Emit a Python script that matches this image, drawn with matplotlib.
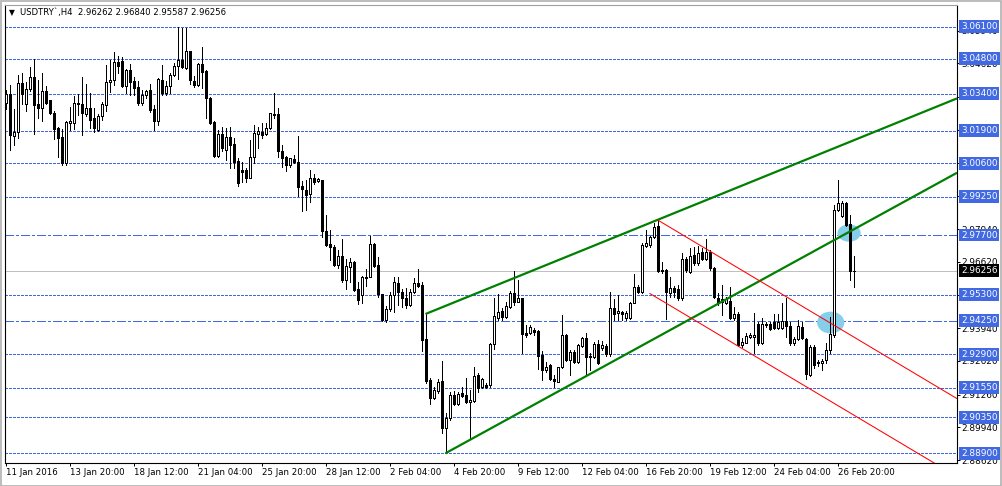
import numpy as np
import matplotlib
matplotlib.use('Agg')
import matplotlib.pyplot as plt
from matplotlib.patches import Ellipse, Rectangle
from matplotlib.transforms import blended_transform_factory

# USDTRY H4 candles, 11 Jan - 26 Feb 2016
opens = [
    3.0302, 3.0337, 3.0168, 3.0185, 3.0383, 3.0300, 3.0357, 3.0407, 3.0297, 3.0283,
    3.0349, 3.0313, 3.0263, 3.0201, 3.0165, 3.0060, 3.0223, 3.0223, 3.0302, 3.0298,
    3.0259, 3.0282, 3.0242, 3.0195, 3.0249, 3.0296, 3.0386, 3.0394, 3.0468, 3.0472,
    3.0372, 3.0434, 3.0390, 3.0367, 3.0304, 3.0333, 3.0353, 3.0277, 3.0231, 3.0394,
    3.0344, 3.0369, 3.0414, 3.0451, 3.0477, 3.0445, 3.0510, 3.0390, 3.0373, 3.0458,
    3.0431, 3.0322, 3.0226, 3.0089, 3.0176, 3.0114, 3.0167, 3.0137, 3.0069, 3.0032,
    3.0032, 3.0001, 3.0083, 3.0176, 3.0187, 3.0176, 3.0200, 3.0257, 3.0257, 3.0109,
    3.0083, 3.0052, 3.0077, 3.0066, 2.9968, 2.9952, 2.9934, 2.9999, 2.9988, 2.9990,
    2.9788, 2.9734, 2.9720, 2.9649, 2.9686, 2.9589, 2.9643, 2.9663, 2.9553, 2.9528,
    2.9598, 2.9602, 2.9734, 2.9649, 2.9531, 2.9426, 2.9471, 2.9528, 2.9575, 2.9539,
    2.9515, 2.9488, 2.9539, 2.9575, 2.9569, 2.9351, 2.9186, 2.9112, 2.9141, 2.9182,
    2.8991, 2.9031, 2.9125, 2.9090, 2.9132, 2.9125, 2.9095, 2.9101, 2.9206, 2.9159,
    2.9165, 2.9165, 2.9329, 2.9437, 2.9464, 2.9441, 2.9481, 2.9535, 2.9501, 2.9515,
    2.9374, 2.9374, 2.9387, 2.9383, 2.9286, 2.9226, 2.9246, 2.9188, 2.9179, 2.9236,
    2.9367, 2.9266, 2.9297, 2.9257, 2.9324, 2.9356, 2.9284, 2.9279, 2.9329, 2.9313,
    2.9324, 2.9289, 2.9474, 2.9454, 2.9461, 2.9434, 2.9434, 2.9497, 2.9562, 2.9542,
    2.9727, 2.9730, 2.9763, 2.9807, 2.9629, 2.9629, 2.9535, 2.9555, 2.9551, 2.9515,
    2.9672, 2.9622, 2.9689, 2.9656, 2.9703, 2.9672, 2.9703, 2.9636, 2.9515, 2.9512,
    2.9497, 2.9504, 2.9434, 2.9451, 2.9326, 2.9336, 2.9360, 2.9360, 2.9411, 2.9333,
    2.9406, 2.9411, 2.9420, 2.9394, 2.9394, 2.9425, 2.9403, 2.9333, 2.9349, 2.9400,
    2.9349, 2.9205, 2.9320, 2.9259, 2.9255, 2.9266, 2.9306, 2.9367, 2.9871, 2.9848,
    2.9898, 2.9813, 2.96262,
]
highs = [
    3.0353, 3.0376, 3.0277, 3.0417, 3.0423, 3.0387, 3.0447, 3.0478, 3.0394, 3.0423,
    3.0371, 3.0316, 3.0270, 3.0205, 3.0196, 3.0230, 3.0286, 3.0330, 3.0340, 3.0407,
    3.0379, 3.0343, 3.0282, 3.0259, 3.0306, 3.0457, 3.0477, 3.0508, 3.0492, 3.0488,
    3.0441, 3.0461, 3.0407, 3.0390, 3.0353, 3.0356, 3.0380, 3.0296, 3.0403, 3.0457,
    3.0390, 3.0425, 3.0465, 3.0610, 3.0606, 3.0604, 3.0512, 3.0410, 3.0465, 3.0528,
    3.0434, 3.0325, 3.0228, 3.0192, 3.0206, 3.0201, 3.0207, 3.0160, 3.0082, 3.0066,
    3.0042, 3.0153, 3.0214, 3.0207, 3.0223, 3.0220, 3.0263, 3.0341, 3.0281, 3.0133,
    3.0089, 3.0082, 3.0093, 3.0169, 2.9988, 2.9992, 3.0032, 3.0015, 3.0001, 2.9993,
    2.9851, 2.9790, 2.9730, 2.9710, 2.9754, 2.9673, 2.9679, 2.9666, 2.9582, 2.9605,
    2.9633, 2.9768, 2.9737, 2.9683, 2.9533, 2.9485, 2.9539, 2.9601, 2.9600, 2.9553,
    2.9558, 2.9553, 2.9598, 2.9633, 2.9579, 2.9450, 2.9192, 2.9159, 2.9190, 2.9262,
    2.9054, 2.9138, 2.9140, 2.9135, 2.9159, 2.9192, 2.9145, 2.9239, 2.9212, 2.9195,
    2.9172, 2.9336, 2.9515, 2.9531, 2.9474, 2.9501, 2.9544, 2.9626, 2.9589, 2.9518,
    2.9407, 2.9407, 2.9396, 2.9385, 2.9302, 2.9259, 2.9248, 2.9206, 2.9239, 2.9448,
    2.9370, 2.9305, 2.9305, 2.9329, 2.9360, 2.9376, 2.9293, 2.9340, 2.9347, 2.9343,
    2.9329, 2.9539, 2.9512, 2.9528, 2.9464, 2.9464, 2.9501, 2.9611, 2.9568, 2.9739,
    2.9790, 2.9767, 2.9817, 2.9831, 2.9662, 2.9632, 2.9602, 2.9564, 2.9568, 2.9696,
    2.9680, 2.9716, 2.9720, 2.9726, 2.9716, 2.9752, 2.9709, 2.9640, 2.9535, 2.9568,
    2.9521, 2.9562, 2.9481, 2.9461, 2.9353, 2.9374, 2.9374, 2.9457, 2.9420, 2.9434,
    2.9420, 2.9420, 2.9451, 2.9451, 2.9497, 2.9515, 2.9420, 2.9360, 2.9427, 2.9420,
    2.9353, 2.9326, 2.9326, 2.9266, 2.9269, 2.9333, 2.9441, 2.9890, 2.9992, 2.9907,
    2.9902, 2.9851, 2.96840,
]
lows = [
    3.0277, 3.0111, 3.0132, 3.0162, 3.0300, 3.0269, 3.0350, 3.0179, 3.0243, 3.0231,
    3.0300, 3.0259, 3.0156, 3.0086, 3.0051, 3.0051, 3.0192, 3.0199, 3.0255, 3.0175,
    3.0249, 3.0201, 3.0185, 3.0191, 3.0232, 3.0270, 3.0347, 3.0373, 3.0425, 3.0367,
    3.0343, 3.0336, 3.0336, 3.0294, 3.0293, 3.0322, 3.0266, 3.0195, 3.0215, 3.0333,
    3.0333, 3.0343, 3.0411, 3.0400, 3.0445, 3.0440, 3.0380, 3.0367, 3.0371, 3.0363,
    3.0242, 3.0219, 3.0085, 3.0085, 3.0107, 3.0071, 3.0042, 3.0042, 2.9969, 2.9985,
    2.9985, 2.9999, 3.0059, 3.0122, 3.0160, 3.0173, 3.0198, 3.0241, 3.0086, 3.0046,
    3.0030, 3.0046, 3.0059, 2.9929, 2.9868, 2.9871, 2.9905, 2.9975, 2.9983, 2.9764,
    2.9727, 2.9670, 2.9647, 2.9639, 2.9582, 2.9553, 2.9582, 2.9546, 2.9492, 2.9497,
    2.9565, 2.9600, 2.9641, 2.9519, 2.9425, 2.9421, 2.9465, 2.9461, 2.9488, 2.9481,
    2.9475, 2.9485, 2.9535, 2.9562, 2.9303, 2.9172, 2.9087, 2.9108, 2.9132, 2.8971,
    2.8890, 2.9024, 2.9085, 2.9085, 2.9118, 2.9091, 2.8950, 2.9098, 2.9138, 2.9155,
    2.9155, 2.9159, 2.9310, 2.9427, 2.9427, 2.9434, 2.9477, 2.9488, 2.9499, 2.9296,
    2.9360, 2.9370, 2.9367, 2.9228, 2.9185, 2.9219, 2.9185, 2.9159, 2.9176, 2.9232,
    2.9263, 2.9205, 2.9255, 2.9253, 2.9320, 2.9206, 2.9226, 2.9275, 2.9249, 2.9306,
    2.9284, 2.9284, 2.9427, 2.9427, 2.9427, 2.9427, 2.9431, 2.9495, 2.9535, 2.9535,
    2.9723, 2.9723, 2.9759, 2.9622, 2.9615, 2.9430, 2.9521, 2.9521, 2.9508, 2.9508,
    2.9622, 2.9615, 2.9649, 2.9649, 2.9669, 2.9669, 2.9629, 2.9515, 2.9488, 2.9447,
    2.9492, 2.9430, 2.9427, 2.9322, 2.9320, 2.9333, 2.9353, 2.9295, 2.9326, 2.9330,
    2.9400, 2.9387, 2.9390, 2.9390, 2.9390, 2.9360, 2.9326, 2.9326, 2.9347, 2.9349,
    2.9188, 2.9201, 2.9232, 2.9242, 2.9226, 2.9252, 2.9293, 2.9360, 2.9865, 2.9844,
    2.9805, 2.9589, 2.95587,
]
closes = [
    3.0340, 3.0172, 3.0185, 3.0383, 3.0337, 3.0357, 3.0407, 3.0296, 3.0283, 3.0349,
    3.0304, 3.0263, 3.0199, 3.0161, 3.0060, 3.0226, 3.0230, 3.0302, 3.0300, 3.0263,
    3.0282, 3.0235, 3.0203, 3.0249, 3.0300, 3.0387, 3.0394, 3.0468, 3.0450, 3.0372,
    3.0434, 3.0387, 3.0363, 3.0304, 3.0333, 3.0349, 3.0275, 3.0231, 3.0398, 3.0344,
    3.0369, 3.0414, 3.0451, 3.0474, 3.0447, 3.0510, 3.0394, 3.0373, 3.0458, 3.0427,
    3.0322, 3.0223, 3.0089, 3.0176, 3.0121, 3.0165, 3.0133, 3.0066, 2.9981, 3.0026,
    3.0001, 3.0086, 3.0180, 3.0190, 3.0173, 3.0200, 3.0261, 3.0254, 3.0110, 3.0082,
    3.0052, 3.0079, 3.0063, 2.9965, 2.9954, 2.9932, 2.9999, 2.9985, 2.9995, 2.9788,
    2.9730, 2.9723, 2.9649, 2.9686, 2.9589, 2.9645, 2.9660, 2.9548, 2.9508, 2.9600,
    2.9602, 2.9734, 2.9645, 2.9531, 2.9428, 2.9471, 2.9528, 2.9582, 2.9539, 2.9515,
    2.9488, 2.9539, 2.9575, 2.9565, 2.9347, 2.9182, 2.9112, 2.9145, 2.9179, 2.8991,
    2.9034, 2.9125, 2.9090, 2.9128, 2.9122, 2.9095, 2.9105, 2.9203, 2.9155, 2.9189,
    2.9159, 2.9329, 2.9443, 2.9458, 2.9441, 2.9484, 2.9535, 2.9501, 2.9515, 2.9371,
    2.9367, 2.9400, 2.9380, 2.9284, 2.9226, 2.9239, 2.9189, 2.9181, 2.9236, 2.9367,
    2.9266, 2.9297, 2.9259, 2.9326, 2.9356, 2.9279, 2.9277, 2.9329, 2.9253, 2.9326,
    2.9289, 2.9474, 2.9450, 2.9464, 2.9450, 2.9454, 2.9497, 2.9559, 2.9542, 2.9730,
    2.9736, 2.9763, 2.9804, 2.9626, 2.9625, 2.9541, 2.9555, 2.9541, 2.9515, 2.9672,
    2.9629, 2.9685, 2.9656, 2.9699, 2.9672, 2.9703, 2.9636, 2.9521, 2.9494, 2.9501,
    2.9512, 2.9437, 2.9451, 2.9326, 2.9340, 2.9364, 2.9365, 2.9367, 2.9333, 2.9411,
    2.9411, 2.9392, 2.9394, 2.9420, 2.9425, 2.9403, 2.9333, 2.9349, 2.9403, 2.9353,
    2.9209, 2.9320, 2.9246, 2.9255, 2.9263, 2.9306, 2.9371, 2.9871, 2.9900, 2.9900,
    2.9810, 2.9626, 2.96256,
]

date_bars = [0, 16, 32, 48, 64, 80, 96, 112, 128, 144, 160, 176, 192, 208]
date_labels = ['11 Jan 2016', '13 Jan 20:00', '18 Jan 12:00', '21 Jan 04:00',
               '25 Jan 20:00', '28 Jan 12:00', '2 Feb 04:00', '4 Feb 20:00',
               '9 Feb 12:00', '12 Feb 04:00', '16 Feb 20:00', '19 Feb 12:00',
               '24 Feb 04:00', '26 Feb 20:00']

price_ticks = [2.8862, 2.8994, 2.9126, 2.9262, 2.9394, 2.9528, 2.9662,
               2.9794, 2.9928, 3.0062, 3.0194, 3.0328, 3.0462, 3.0594]

dash_levels = [3.061, 3.048, 3.034, 3.019, 3.006, 2.9925, 2.953,
               2.929, 2.9155, 2.9035, 2.889]
dashdot_levels = [2.977, 2.9425]
last_price = 2.96256

# trend lines: two anchor points (bar, price) each
green_upper = [(105, 2.94515), (163, 2.9831)]
green_lower = [(110, 2.8890), (210, 2.97745)]
red_upper = [(163, 2.9831), (195, 2.9523)]
red_lower = [(161, 2.9535), (200, 2.9160)]

# marked spots: (bar, price, width in bars, height in price)
spots = [(210.9, 2.9778, 5.8, 0.0070), (206.3, 2.9417, 6.8, 0.0088)]

title = 'USDTRY`,H4  2.96262 2.96840 2.95587 2.96256'

BLUE = '#4169E1'
PX = 0.68  # about one pixel, in points
W, H = 1002, 486
fig = plt.figure(figsize=(W / 100, H / 100), dpi=100)
ax = fig.add_axes([5 / W, 23 / H, 952 / W, 458 / H])
ax.set_xlim(-0.125, 237.875)
ax.set_ylim(2.88507, 3.06975)

for lv in dash_levels:
    ax.axhline(lv, color=BLUE, lw=PX, linestyle=(0, (3, 2)), zorder=1,
               antialiased=False)
for lv in dashdot_levels:
    ax.axhline(lv, color=BLUE, lw=PX, linestyle=(0, (9, 3, 3, 3)), zorder=1,
               antialiased=False)
ax.axhline(last_price, color='#C0C0C0', lw=PX, zorder=1, antialiased=False)

for bx, by, bw, bh in spots:
    ax.add_patch(Ellipse((bx, by), bw, bh, facecolor='#87CEEB', edgecolor='none',
                         zorder=2))

x = np.arange(len(opens))
o = np.array(opens)
c = np.array(closes)
ax.vlines(x, lows, highs, color='black', lw=PX, zorder=3, antialiased=False)
body_lo = np.minimum(o, c)
body_h = np.maximum(np.abs(c - o), 0.00012)
face = np.where(c >= o, 'white', 'black')
ax.bar(x, body_h, bottom=body_lo, width=0.5, color=face, edgecolor='black',
       lw=PX, zorder=4, antialiased=False)

xmax = ax.get_xlim()[1]


def ray(anchors, color, lw):
    (x0, y0), (x1, y1) = anchors
    slope = (y1 - y0) / (x1 - x0)
    ax.plot([x0, xmax], [y0, y0 + slope * (xmax - x0)], color=color, lw=lw,
            zorder=5, solid_capstyle='butt')


ray(green_upper, '#008000', 1.6)
ray(green_lower, '#008000', 1.6)
ray(red_upper, '#FF0000', 0.75)
ray(red_lower, '#FF0000', 0.75)

# axes look
for side in ['left', 'right', 'bottom']:
    ax.spines[side].set_color('black')
    ax.spines[side].set_linewidth(0.8)
ax.spines['top'].set_color('#A0A0A0')
ax.spines['top'].set_linewidth(0.8)

ax.yaxis.tick_right()
ax.set_yticks(price_ticks)
ax.set_yticklabels(['%.5f' % v for v in price_ticks])
ax.tick_params(axis='y', direction='out', length=2.2, width=0.72, pad=1.2,
               labelsize=6.4, colors='black')
ax.set_xticks(date_bars)
ax.set_xticklabels(date_labels)
for lab in ax.get_xticklabels():
    lab.set_ha('left')
ax.tick_params(axis='x', direction='out', length=2.2, width=0.72, pad=1.5,
               labelsize=6.2, colors='black')

trans = blended_transform_factory(ax.transAxes, ax.transData)
lx = (961 - 5) / 952
for lv in dash_levels + dashdot_levels:
    ax.text(lx, lv, '%.5f' % lv, transform=trans, color='white', fontsize=6.4,
            va='center', ha='left', zorder=10, clip_on=False,
            bbox=dict(boxstyle='square,pad=0.22', fc=BLUE, ec='none'))
ax.text(lx, last_price, '%.5f' % last_price, transform=trans, color='white',
        fontsize=6.4, va='center', ha='left', zorder=10, clip_on=False,
        bbox=dict(boxstyle='square,pad=0.22', fc='black', ec='none'))

fig.text(9 / W, 1 - 12.5 / H, '\u25bc', fontsize=5.5, va='center', ha='left')
fig.text(20 / W, 1 - 12.5 / H, title, fontsize=6.1, va='center', ha='left')

fig.patches.append(Rectangle((0.5 / W, 0.5 / H), 1 - 2 / W, 1 - 2 / H,
                             transform=fig.transFigure, fill=False,
                             ec='#B0B0B0', lw=1.2))

fig.savefig('out.png', dpi=100)
